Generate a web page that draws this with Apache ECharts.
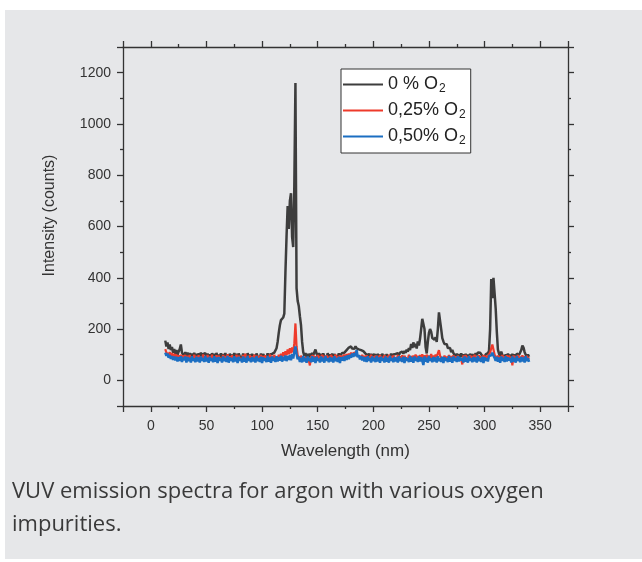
<!DOCTYPE html>
<html><head><meta charset="utf-8">
<script src="https://cdn.jsdelivr.net/npm/echarts@6/dist/echarts.min.js"></script>
<style>
html,body{margin:0;padding:0;background:#fff;}
#bg{position:absolute;left:5px;top:10px;width:637px;height:549px;background:#e6e7e9;}
#chart{position:absolute;left:0;top:0;width:642px;height:562px;}
</style></head><body><div id="bg"></div><div id="chart"></div>
<script>
const wavelength = [
13,14,15,16,17,18,19,20,21,22,
23,24,25,26,27,28,29,30,31,32,
33,34,35,36,37,38,39,40,41,42,
43,44,45,46,47,48,49,50,51,52,
53,54,55,56,57,58,59,60,61,62,
63,64,65,66,67,68,69,70,71,72,
73,74,75,76,77,78,79,80,81,82,
83,84,85,86,87,88,89,90,91,92,
93,94,95,96,97,98,99,100,101,102,
103,104,105,106,107,108,109,110,111,112,
113,114,115,116,117,118,119,120,121,122,
123,124,125,126,127,128,129,130,131,132,
133,134,135,136,137,138,139,140,141,142,
143,144,145,146,147,148,149,150,151,152,
153,154,155,156,157,158,159,160,161,162,
163,164,165,166,167,168,169,170,171,172,
173,174,175,176,177,178,179,180,181,182,
183,184,185,186,187,188,189,190,191,192,
193,194,195,196,197,198,199,200,201,202,
203,204,205,206,207,208,209,210,211,212,
213,214,215,216,217,218,219,220,221,222,
223,224,225,226,227,228,229,230,231,232,
233,234,235,236,237,238,239,240,241,242,
243,244,245,246,247,248,249,250,251,252,
253,254,255,256,257,258,259,260,261,262,
263,264,265,266,267,268,269,270,271,272,
273,274,275,276,277,278,279,280,281,282,
283,284,285,286,287,288,289,290,291,292,
293,294,295,296,297,298,299,300,301,302,
303,304,305,306,307,308,309,310,311,312,
313,314,315,316,317,318,319,320,321,322,
323,324,325,326,327,328,329,330,331,332,
333,334,335,336,337,338,339,340];

const o2_0 = [
155,132,148,122,140,118,130,108,122,104,
118,100,112,122,140,108,112,96,110,94,
108,92,106,95,104,90,107,94,103,91,
105,93,108,90,102,95,106,89,104,92,
101,88,106,94,103,89,107,92,100,90,
105,88,102,93,106,90,101,87,104,92,
100,89,106,91,103,87,105,93,99,88,
104,90,101,86,106,92,100,89,103,91,
99,87,105,93,100,88,104,90,102,94,
98,89,105,92,101,96,103,100,108,104,
125,150,185,215,235,240,245,260,420,560,
680,590,700,730,560,520,760,1160,360,310,
290,250,215,150,110,96,106,92,103,90,
104,93,107,98,110,120,104,94,106,91,
103,89,105,93,100,88,106,92,101,90,
104,89,102,94,100,91,105,96,103,107,
100,108,112,118,121,128,122,132,124,130,
123,133,125,130,121,128,118,125,114,113,
104,108,96,104,92,103,89,101,94,99,
88,103,92,100,87,104,91,99,89,102,
93,100,88,104,92,101,96,103,99,106,
98,108,102,112,104,115,107,120,112,126,
118,142,126,148,130,143,124,152,136,162,
200,240,245,200,130,105,150,185,200,190,
165,172,158,168,150,200,265,272,200,165,
152,142,136,141,126,121,126,110,119,106,
101,92,104,90,102,88,105,93,101,89,
103,91,100,87,104,92,101,99,94,106,
98,109,115,108,104,95,102,92,101,94,
106,115,200,395,320,400,340,280,190,120,
104,94,112,98,103,91,101,89,104,92,
100,88,103,93,101,90,104,97,99,106,
118,136,128,110,100,90,101,92];

const o2_025 = [
122,108,115,100,110,96,106,92,103,90,
101,86,98,84,100,83,97,87,99,82,
96,80,99,85,94,81,100,84,95,79,
98,83,93,80,101,86,95,81,99,84,
94,79,100,85,93,82,98,80,96,86,
92,80,99,84,95,81,102,83,94,79,
98,85,93,80,100,82,96,86,91,80,
99,84,104,81,95,79,98,85,93,82,
100,80,96,84,94,79,99,83,95,81,
98,85,92,80,101,84,96,82,99,86,
94,82,100,86,104,88,110,95,114,98,
120,102,125,106,128,110,145,222,132,98,
92,80,96,84,93,79,90,82,88,78,
58,92,85,97,81,94,83,99,80,95,
84,100,82,96,79,98,85,93,81,99,
86,94,80,101,83,95,79,98,84,92,
88,99,90,102,94,104,96,108,98,106,
100,109,97,104,95,102,90,99,86,96,
82,98,84,93,80,100,85,94,79,97,
83,95,81,99,84,92,80,98,86,94,
79,100,83,95,81,97,85,92,80,99,
84,94,82,98,80,96,86,93,81,100,
85,95,82,97,84,101,86,96,83,99,
87,102,84,98,85,100,88,96,84,103,
86,97,83,101,92,105,118,96,88,94,
81,97,84,93,80,99,83,95,79,98,
82,94,80,96,84,91,83,62,97,81,
99,85,93,80,98,83,95,79,100,84,
92,81,98,85,94,80,99,83,96,82,
95,102,108,125,140,120,100,92,84,97,
81,95,83,99,80,94,85,98,79,96,
84,92,58,97,82,95,80,99,84,93,
81,98,85,94,80,96,83,90];

const o2_050 = [
108,96,104,88,98,84,95,80,93,78,
92,74,90,76,94,72,89,78,93,70,
91,75,88,70,94,77,86,71,92,74,
89,70,93,76,87,72,95,74,88,69,
92,76,86,71,94,73,89,68,91,77,
86,70,93,75,88,72,95,69,90,76,
87,71,94,74,89,68,92,77,85,70,
93,73,88,69,95,76,86,71,91,74,
88,70,94,75,87,72,92,68,90,77,
86,71,95,73,89,69,93,76,88,72,
94,74,90,77,96,73,92,78,97,75,
95,80,99,78,102,85,112,132,104,82,
92,72,88,70,95,74,87,69,93,76,
86,71,94,73,89,68,92,77,85,70,
93,74,88,69,95,76,86,71,91,74,
88,70,94,75,87,72,92,68,90,77,
92,76,95,80,98,83,100,88,104,92,
106,95,118,90,99,82,95,78,92,74,
90,72,94,76,87,70,93,75,88,71,
95,74,89,69,92,77,86,70,93,73,
88,69,95,76,86,71,91,74,89,70,
94,75,87,72,92,68,90,77,86,71,
95,73,89,69,93,76,88,72,94,74,
90,77,60,93,73,88,69,95,76,86,
71,91,74,89,70,94,75,87,72,92,
68,90,77,86,71,95,73,89,69,93,
76,88,72,94,74,90,77,87,70,93,
73,88,69,95,76,86,71,91,74,89,
70,94,75,87,72,92,68,90,77,86,
74,95,92,98,108,96,88,76,92,73,
89,69,93,76,88,72,94,74,90,77,
87,70,93,73,88,69,95,76,86,71,
91,74,89,70,94,75,87,72];

const seriesNames = ['0 % O2', '0,25% O2', '0,50% O2'];
const seriesColors = ['#3d3d3d', '#ee3a2b', '#1b6ec2'];
const xLabelName = 'Wavelength (nm)';
const yLabelName = 'Intensity (counts)';
const captionLines = ['VUV emission spectra for argon with various oxygen', 'impurities.'];

const chart = echarts.init(document.getElementById('chart'), null, {renderer: 'canvas'});
const axisColor = '#333';
const lineS = {color: axisColor, width: 1.3};
function baseAxis(extra) {
  return Object.assign({
    type: 'value',
    axisLine: {show: true, onZero: false, lineStyle: lineS},
    axisTick: {show: true, inside: false, length: 6, lineStyle: lineS},
    minorTick: {show: true, splitNumber: 2, length: 3, lineStyle: lineS},
    splitLine: {show: false},
    minorSplitLine: {show: false}
  }, extra);
}
const FONT = 'Liberation Sans, Arial, sans-serif';
const labelStyle = {fontFamily: FONT, fontSize: 14, color: '#333'};
const allSeries = [o2_0, o2_025, o2_050];
const widths = [2.5, 2.2, 2.5];

chart.setOption({
  animation: false,
  grid: {left: 123, right: 74, top: 47, bottom: 156, containLabel: false},
  xAxis: [
    baseAxis({min: -25, max: 375, splitNumber: 8, position: 'bottom',
      axisLabel: Object.assign({show: true, margin: 13, showMinLabel: false, showMaxLabel: false,
        formatter: v => (v % 50 === 0 ? String(v) : '')}, labelStyle),
      name: xLabelName, nameLocation: 'middle', nameGap: 37,
      nameTextStyle: {fontFamily: FONT, fontSize: 17, color: '#333'}}),
    baseAxis({min: -25, max: 375, splitNumber: 8, position: 'top', axisLabel: {show: false}})
  ],
  yAxis: [
    baseAxis({min: -100, max: 1300, splitNumber: 7, position: 'left',
      axisLabel: Object.assign({show: true, margin: 12, showMinLabel: false, showMaxLabel: false,
        formatter: v => (v % 200 === 0 ? String(v) : '')}, labelStyle),
      name: yLabelName, nameLocation: 'middle', nameGap: 65,
      nameTextStyle: {fontFamily: FONT, fontSize: 16, color: '#333', padding: [0, 0, 0, 22]}}),
    baseAxis({min: -100, max: 1300, splitNumber: 7, position: 'right', axisLabel: {show: false}})
  ],
  legend: {
    orient: 'vertical', left: 341, top: 69,
    data: seriesNames,
    icon: 'rect', itemWidth: 40, itemHeight: 2, itemGap: 5,
    backgroundColor: '#fff', borderColor: '#333', borderWidth: 1, borderRadius: 0,
    padding: [5, 5, 6, 2],
    formatter: n => '{t|' + n.replace(/2$/, '') + '}{s|2}',
    textStyle: {
      fontFamily: FONT, color: '#222',
      rich: {
        t: {fontSize: 18, lineHeight: 22, fontFamily: FONT, color: '#222'},
        s: {fontSize: 12, lineHeight: 22, padding: [9, 0, 0, 1], fontFamily: FONT, color: '#222'}
      }
    }
  },
  series: seriesNames.map((n, k) => ({
    name: n, type: 'line', xAxisIndex: 0, yAxisIndex: 0,
    symbol: 'none', smooth: false,
    lineStyle: {color: seriesColors[k], width: widths[k]},
    itemStyle: {color: seriesColors[k]},
    data: wavelength.map((w, i) => [w, allSeries[k][i]])
  })),
  graphic: captionLines.map((t, i) => ({
    type: 'text', x: 12, y: 492 + i * 33,
    style: {text: t, fontFamily: 'Open Sans', fontSize: 22, fill: '#3a3a3a', verticalAlign: 'middle'}
  }))
});
</script></body></html>
